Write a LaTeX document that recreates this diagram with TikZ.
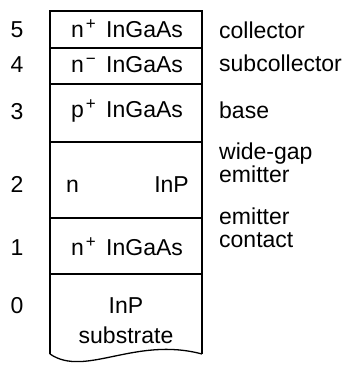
\documentclass[tikz,border=0pt]{standalone}
\usepackage{fontspec}
\setmainfont{Liberation Sans}
\newcommand{\supr}[1]{\hspace{2pt}\raisebox{8pt}{\fontsize{17}{17}\selectfont #1}\hspace{4pt}}
\begin{document}
\begin{tikzpicture}[x=1pt,y=-1pt,
  lay/.style={line width=1.3pt},
  txt/.style={font=\fontsize{23}{23}\selectfont, inner sep=0pt, anchor=base},
  lbl/.style={txt, anchor=base west, align=left},
  num/.style={txt}]
\useasboundingbox (0,0) rectangle (353,365);
% layers outline
\coordinate (tl) at (50,11);
\coordinate (tr) at (202,11);
\coordinate (bl) at (50,354);
\coordinate (br) at (202,354);
\draw[lay] (bl) -- (tl) -- (tr) -- (br);
\draw[lay] (bl) .. controls (85,378) and (135,336) .. (br);
\foreach \y/\n in {48/a,84/b,142/c,218/d,274/e}{
  \draw[lay] (50,\y) -- (202,\y);
}
% numbers
\node[num] (n5) at (17,37) {5};
\node[num] (n4) at (17,72) {4};
\node[num] (n3) at (17,119) {3};
\node[num] (n2) at (17,192) {2};
\node[num] (n1) at (17,255) {1};
\node[num] (n0) at (17,313) {0};
% layer texts
\node[txt] (m5) at (127,37) {n\supr{+} InGaAs};
\node[txt] (m4) at (127,72) {n\supr{−} InGaAs};
\node[txt] (m3) at (127,117) {p\supr{+} InGaAs};
\node[txt, anchor=base west] (m2a) at (66,192) {n};
\node[txt, anchor=base east] (m2b) at (189,192) {InP};
\node[txt] (m1) at (127,255) {n\supr{+} InGaAs};
\node[txt] (m0a) at (126,313) {InP};
\node[txt] (m0b) at (126,343) {substrate};
% right labels
\node[lbl] (l5) at (219,38) {collector};
\node[lbl] (l4) at (219,71) {subcollector};
\node[lbl] (l3) at (219,118) {base};
\node[lbl] (l2) at (219,182) {wide-gap\\emitter};
\node[lbl] (l1) at (219,247) {emitter\\contact};
\end{tikzpicture}
\end{document}
